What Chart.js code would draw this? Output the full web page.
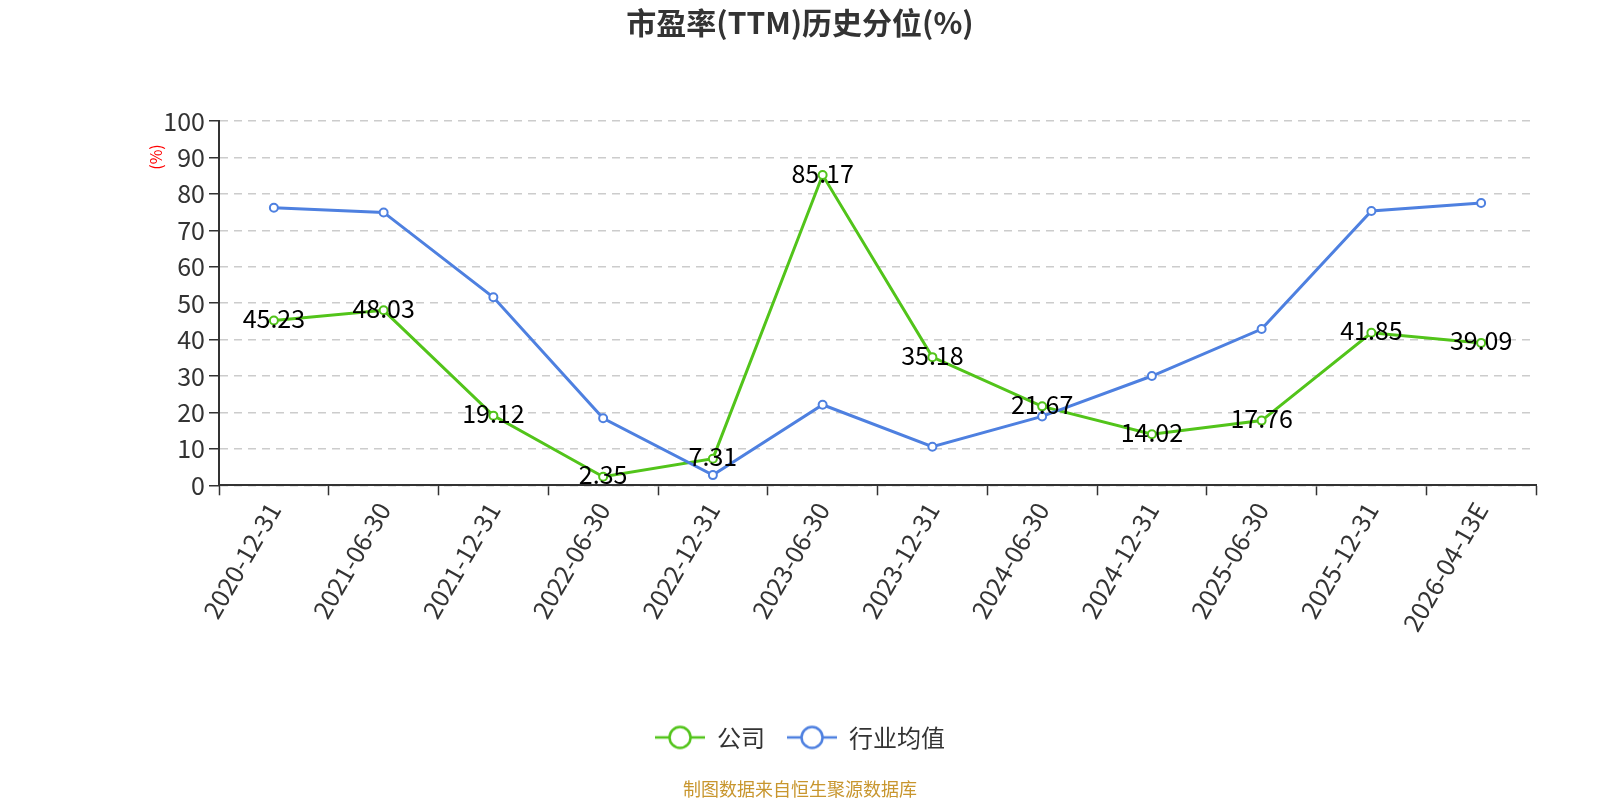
<!DOCTYPE html>
<html>
<head>
<meta charset="utf-8">
<title>市盈率(TTM)历史分位(%)</title>
<script src="https://cdn.jsdelivr.net/npm/chart.js@4/dist/chart.umd.min.js"></script>
<style>
    html, body { margin: 0; padding: 0; background: #ffffff; }
    #wrap { width: 1600px; height: 800px; position: relative; }
</style>
</head>
<body>
<div id="wrap"><canvas id="pe-chart"></canvas></div>
<script>
// ---------------------------------------------------------------------------
// 数据：报告期、公司分位、行业均值分位
// ---------------------------------------------------------------------------
var categorias = ['2020-12-31', '2021-06-30', '2021-12-31', '2022-06-30', '2022-12-31', '2023-06-30',
    '2023-12-31', '2024-06-30', '2024-12-31', '2025-06-30', '2025-12-31', '2026-04-13E'];
var empresa = [45.23, 48.03, 19.12, 2.35, 7.31, 85.17, 35.18, 21.67, 14.02, 17.76, 41.85, 39.09];
var industria = [76.2, 74.9, 51.6, 18.4, 2.8, 22.1, 10.6, 18.9, 30.0, 42.9, 75.3, 77.5];
var nombresSeries = ['公司', '行业均值'];
var ticksY = [0, 10, 20, 30, 40, 50, 60, 70, 80, 90, 100];

var VERDE = '#52c41a';
var AZUL = '#4e80e0';
var FUENTE = '"Noto Sans CJK SC", "Noto Sans", sans-serif';

(function () {
    if (typeof window.Chart === 'undefined') {
        return;
    }

    // Icono de leyenda: línea con círculo hueco (estilo echarts)
    function iconoLeyenda(color) {
        var c = document.createElement('canvas');
        c.width = 50;
        c.height = 26;
        var g = c.getContext('2d');
        g.strokeStyle = color;
        g.lineWidth = 2.5;
        g.beginPath();
        g.moveTo(0, 13);
        g.lineTo(50, 13);
        g.stroke();
        g.beginPath();
        g.arc(25, 13, 10.5, 0, Math.PI * 2);
        g.fillStyle = '#ffffff';
        g.fill();
        g.stroke();
        return c;
    }

    // Etiquetas de valor sobre la serie 公司
    var etiquetasValor = {
        id: 'etiquetasValor',
        afterDatasetsDraw: function (chart) {
            var meta = chart.getDatasetMeta(0);
            var ctx = chart.ctx;
            ctx.save();
            ctx.font = '25px ' + FUENTE;
            ctx.fillStyle = '#000000';
            ctx.textAlign = 'center';
            ctx.textBaseline = 'middle';
            meta.data.forEach(function (pt, i) {
                ctx.fillText(empresa[i].toFixed(2), pt.x, pt.y - 2);
            });
            ctx.restore();
        }
    };

    // Unidad del eje Y en rojo, girada
    var unidadY = {
        id: 'unidadY',
        afterDraw: function (chart) {
            var area = chart.chartArea;
            var ctx = chart.ctx;
            ctx.save();
            ctx.translate(area.left - 63, area.top + 36);
            ctx.rotate(-Math.PI / 2);
            ctx.font = '16px ' + FUENTE;
            ctx.fillStyle = '#ff0000';
            ctx.textAlign = 'center';
            ctx.textBaseline = 'middle';
            ctx.fillText('(%)', 0, 0);
            ctx.restore();
        }
    };

    var colores = [VERDE, AZUL];

    new Chart(document.getElementById('pe-chart').getContext('2d'), {
        type: 'line',
        data: {
            labels: categorias,
            datasets: [{
                label: nombresSeries[0],
                data: empresa,
                borderColor: VERDE,
                backgroundColor: '#ffffff',
                borderWidth: 3,
                pointRadius: 4,
                pointBorderWidth: 2,
                pointBackgroundColor: '#ffffff',
                pointBorderColor: VERDE,
                tension: 0,
                order: 2
            }, {
                label: nombresSeries[1],
                data: industria,
                borderColor: AZUL,
                backgroundColor: '#ffffff',
                borderWidth: 3,
                pointRadius: 4,
                pointBorderWidth: 2,
                pointBackgroundColor: '#ffffff',
                pointBorderColor: AZUL,
                tension: 0,
                order: 1
            }]
        },
        options: {
            responsive: true,
            maintainAspectRatio: false,
            animation: false,
            layout: {
                padding: 0
            },
            scales: {
                x: {
                    offset: true,
                    grid: {
                        offset: true,
                        drawOnChartArea: false,
                        drawTicks: true,
                        tickLength: 10,
                        tickColor: '#333333',
                        tickWidth: 1.5
                    },
                    border: { color: '#333333', width: 2 },
                    ticks: {
                        color: '#333333',
                        font: { family: FUENTE, size: 25 },
                        minRotation: 60,
                        maxRotation: 60,
                        autoSkip: false,
                        padding: 2
                    },
                    title: {
                        display: true,
                        text: '',
                        font: { size: 1 },
                        padding: { top: 64, bottom: 0 }
                    }
                },
                y: {
                    min: 0,
                    max: 100,
                    afterBuildTicks: function (scale) {
                        scale.ticks = ticksY.map(function (v) { return { value: v }; });
                    },
                    // ancho fijo del eje para que el área empiece donde en el original
                    afterFit: function (scale) {
                        scale.width = 219;
                    },
                    grid: {
                        color: '#cccccc',
                        lineWidth: 1.5,
                        tickLength: 10,
                        tickColor: '#333333',
                        tickWidth: 1.5,
                        tickBorderDash: []
                    },
                    border: { color: '#333333', width: 2, dash: [8, 6] },
                    ticks: {
                        color: '#333333',
                        font: { family: FUENTE, size: 25 },
                        padding: 4
                    }
                },
                // eje vacío a la derecha: sólo reserva margen
                margenDer: {
                    type: 'linear',
                    position: 'right',
                    display: true,
                    grid: { display: false },
                    border: { display: false },
                    ticks: { display: false },
                    afterFit: function (scale) {
                        scale.width = 64;
                    }
                }
            },
            plugins: {
                title: {
                    display: true,
                    text: '市盈率(TTM)历史分位(%)',
                    color: '#333333',
                    font: { family: FUENTE, size: 30, weight: 'bold' },
                    padding: { top: 5, bottom: 80 }
                },
                subtitle: {
                    display: true,
                    position: 'bottom',
                    text: '制图数据来自恒生聚源数据库',
                    color: '#c8962e',
                    font: { family: FUENTE, size: 18 },
                    padding: { top: 19, bottom: 0 }
                },
                legend: {
                    position: 'bottom',
                    labels: {
                        color: '#333333',
                        font: { family: FUENTE, size: 24 },
                        usePointStyle: true,
                        pointStyleWidth: 50,
                        boxHeight: 24,
                        padding: 22,
                        generateLabels: function (chart) {
                            return chart.data.datasets.map(function (ds, i) {
                                return {
                                    text: ds.label,
                                    fontColor: '#333333',
                                    pointStyle: iconoLeyenda(colores[i]),
                                    datasetIndex: i,
                                    hidden: false,
                                    lineWidth: 0
                                };
                            });
                        }
                    }
                },
                tooltip: { enabled: false }
            }
        },
        plugins: [etiquetasValor, unidadY]
    });
})();
</script>
</body>
</html>
